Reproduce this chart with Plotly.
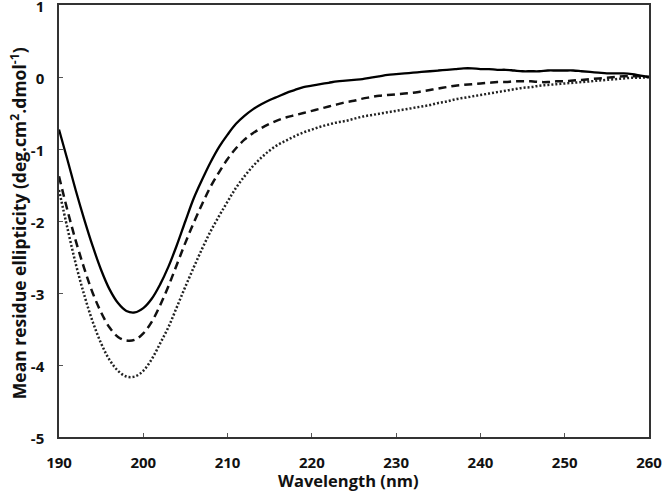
import plotly.graph_objects as go

wavelength = list(range(190, 261))

solid = [-0.73, -1.15, -1.58, -1.98, -2.35, -2.68, -2.95, -3.14, -3.25, -3.27,
         -3.21, -3.08, -2.88, -2.63, -2.33, -2.00, -1.68, -1.42, -1.18, -0.97,
         -0.80, -0.65, -0.54, -0.45, -0.38, -0.32, -0.27, -0.22, -0.18, -0.14,
         -0.12, -0.10, -0.08, -0.06, -0.05, -0.04, -0.03, -0.01, 0.01, 0.03,
         0.04, 0.05, 0.06, 0.07, 0.08, 0.09, 0.10, 0.11, 0.12, 0.12,
         0.11, 0.11, 0.10, 0.10, 0.09, 0.08, 0.08, 0.08, 0.09, 0.09,
         0.09, 0.09, 0.08, 0.07, 0.06, 0.05, 0.05, 0.05, 0.04, 0.02,
         0.00]

dashed = [-1.38, -1.85, -2.28, -2.66, -3.00, -3.27, -3.48, -3.61, -3.66, -3.65,
          -3.56, -3.40, -3.17, -2.90, -2.60, -2.30, -2.02, -1.76, -1.52, -1.32,
          -1.14, -0.99, -0.87, -0.78, -0.71, -0.65, -0.60, -0.56, -0.53, -0.50,
          -0.47, -0.44, -0.41, -0.38, -0.35, -0.33, -0.30, -0.28, -0.26, -0.25,
          -0.24, -0.23, -0.22, -0.20, -0.18, -0.16, -0.14, -0.12, -0.11, -0.10,
          -0.09, -0.08, -0.07, -0.07, -0.06, -0.06, -0.06, -0.07, -0.07, -0.06,
          -0.06, -0.05, -0.04, -0.03, -0.02, -0.01, 0.00, 0.01, 0.01, 0.01,
          0.00]

dotted = [-1.57, -2.10, -2.60, -3.03, -3.40, -3.70, -3.93, -4.08, -4.16, -4.16,
          -4.08, -3.92, -3.70, -3.47, -3.19, -2.91, -2.64, -2.38, -2.14, -1.93,
          -1.73, -1.54, -1.38, -1.24, -1.12, -1.02, -0.94, -0.88, -0.82, -0.77,
          -0.73, -0.69, -0.66, -0.63, -0.61, -0.58, -0.55, -0.53, -0.51, -0.49,
          -0.47, -0.45, -0.43, -0.41, -0.39, -0.36, -0.34, -0.31, -0.29, -0.27,
          -0.25, -0.23, -0.21, -0.19, -0.17, -0.15, -0.14, -0.12, -0.11, -0.10,
          -0.09, -0.08, -0.07, -0.06, -0.05, -0.04, -0.03, -0.02, -0.01, -0.01,
          0.00]

x_ticks = [190, 200, 210, 220, 230, 240, 250, 260]
y_ticks = [1, 0, -1, -2, -3, -4, -5]

x_title = "Wavelength (nm)"
y_title = "Mean residue ellipticity (deg.cm<sup>2</sup>.dmol<sup>-1</sup>)"

FONT = "Open Sans"

fig = go.Figure()
fig.add_trace(go.Scatter(x=wavelength, y=dotted, mode="lines", line_shape="spline",
                         line=dict(color="#222222", width=2.5, dash="2px,2px")))
fig.add_trace(go.Scatter(x=wavelength, y=dashed, mode="lines", line_shape="spline",
                         line=dict(color="#111111", width=2.5, dash="8px,5px")))
fig.add_trace(go.Scatter(x=wavelength, y=solid, mode="lines", line_shape="spline",
                         line=dict(color="#000000", width=2.3)))

axis_common = dict(showgrid=False, zeroline=False, showline=True, linecolor="#333333",
                   linewidth=1.5, mirror=True, ticks="inside", ticklen=4, tickwidth=1,
                   tickcolor="#555555", ticklabeloverflow="allow",
                   tickfont=dict(family=FONT, size=15, color="#111111", weight="bold"))

fig.update_xaxes(range=[190, 260], tickvals=x_ticks, ticktext=[str(v) for v in x_ticks],
                 ticklabelstandoff=11, **axis_common)
fig.update_yaxes(range=[-5, 1], tickvals=y_ticks, ticktext=[str(v) for v in y_ticks],
                 ticklabelstandoff=10, ticklabelshift=2, **axis_common)

fig.add_annotation(text="<b>" + x_title + "</b>", xref="paper", yref="paper",
                   x=0.491, y=0, yshift=-43, xanchor="center", yanchor="middle",
                   showarrow=False, font=dict(family=FONT, size=16.5, color="#111111"))
fig.add_annotation(text="<b>" + y_title + "</b>", xref="paper", yref="paper",
                   x=0, xshift=-41, y=0.495, xanchor="center", yanchor="middle",
                   textangle=-90, showarrow=False,
                   font=dict(family=FONT, size=17.5, color="#111111"))

fig.update_layout(width=666, height=491, showlegend=False,
                  plot_bgcolor="white", paper_bgcolor="white",
                  margin=dict(l=59, r=17, t=5, b=54, autoexpand=False))

fig.write_html("out.html", config={"displayModeBar": False},
               post_script="document.body.style.margin='0';document.body.style.padding='0';")
